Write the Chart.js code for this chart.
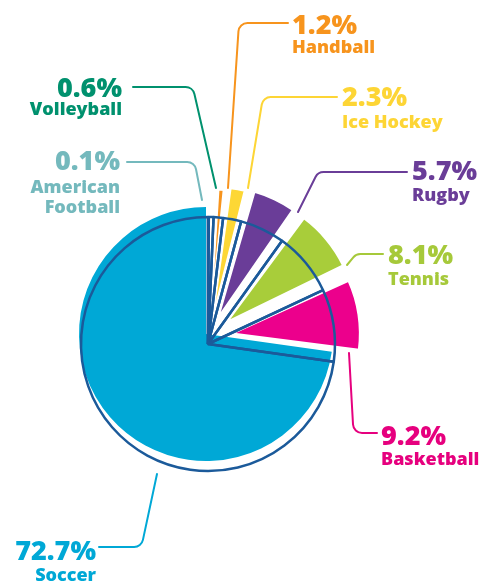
<!DOCTYPE html>
<html>
<head>
<meta charset="utf-8">
<script src="https://cdn.jsdelivr.net/npm/chart.js@4.4.1/dist/chart.umd.min.js"></script>
<style>
  html, body { margin: 0; padding: 0; background: #fff; }
  #wrap { position: relative; width: 481px; height: 583px; overflow: hidden; }
  #wrap canvas { position: absolute; left: 0; top: 0; }
  .lbl { position: absolute; white-space: nowrap; font-family: "Open Sans", sans-serif; font-weight: 800; }
</style>
</head>
<body>
<div id="wrap">
  <canvas id="soccerPie" width="481" height="583"></canvas>
  <canvas id="slicesPie" width="481" height="583"></canvas>
  <canvas id="outlinePie" width="481" height="583"></canvas>
</div>
<script>
// Data, clockwise from 12 o'clock
const categories = ['American Football', 'Volleyball', 'Handball', 'Ice Hockey', 'Rugby', 'Tennis', 'Basketball', 'Soccer'];
const shares = [0.1, 0.6, 1.2, 2.3, 5.7, 8.1, 9.2, 72.7];
const colors = ['#77bdc2', '#00916e', '#f7941d', '#fdd735', '#6a3d98', '#a8cd3a', '#ec008c', '#00a8d6'];
const textColors = ['#74b9bd', '#00916e', '#f7941d', '#fdd535', '#6a3d98', '#a6c93a', '#e6007e', '#00a8d6'];

const W = 481, H = 583;
const outlineColor = '#1b5a9a';

// Label placement: anchor x, baseline of percent, baseline of first name line
const labelLayout = [
    { align: 'right', x: 120, pct: 170, name: 193, wrap: true },
    { align: 'right', x: 122, pct: 97, name: 115 },
    { align: 'left', x: 292, pct: 34, name: 53 },
    { align: 'left', x: 342, pct: 106, name: 128 },
    { align: 'left', x: 412, pct: 180, name: 201 },
    { align: 'left', x: 388, pct: 264, name: 285 },
    { align: 'left', x: 381, pct: 445, name: 465 },
    { align: 'right', x: 96, pct: 560, name: 581 }
];

// Leader lines: start, corner, end
const leaders = [
    [[127, 162], [194.6, 162], [202, 200]],
    [[133, 87], [192.8, 87], [216, 188]],
    [[288, 23], [239, 23], [228, 188]],
    [[337, 97], [263, 97], [248, 188]],
    [[407, 172], [318, 172], [298, 212]],
    [[383, 254], [356, 254], [347, 265]],
    [[349, 353], [353.5, 433], [377, 433]],
    [[99, 547], [141.4, 547], [157, 474]]
];

const leaderPlugin = {
    id: 'leaders',
    afterDraw(chart) {
        const ctx = chart.ctx;
        ctx.save();
        ctx.lineWidth = 2;
        ctx.lineCap = 'round';
        leaders.forEach((pts, i) => {
            ctx.strokeStyle = textColors[i];
            ctx.beginPath();
            ctx.moveTo(pts[0][0], pts[0][1]);
            ctx.arcTo(pts[1][0], pts[1][1], pts[2][0], pts[2][1], 9);
            ctx.lineTo(pts[2][0], pts[2][1]);
            ctx.stroke();
        });
        ctx.restore();
    }
};

function makePie(id, cx, cy, radius, dataset, extraPlugins) {
    const half = 170;
    return new Chart(document.getElementById(id), {
        type: 'pie',
        data: { labels: categories, datasets: [dataset] },
        options: {
            responsive: false,
            animation: false,
            devicePixelRatio: 1,
            radius: radius,
            events: [],
            layout: {
                padding: { left: cx - half, right: W - cx - half, top: cy - half, bottom: H - cy - half }
            },
            plugins: { legend: { display: false }, tooltip: { enabled: false } }
        },
        plugins: extraPlugins || []
    });
}

const last = shares.length - 1;

// Big soccer slice
makePie('soccerPie', 206, 334, 127, {
    data: shares,
    backgroundColor: colors.map((c, i) => i === last ? c : 'rgba(0,0,0,0)'),
    borderWidth: 0
});

// Smaller slices, pulled out
const pullOut = [56, 60, 64, 72, 86, 94, 94, 0];
makePie('slicesPie', 209, 337, 117, {
    data: shares,
    backgroundColor: colors.map((c, i) => i === last ? 'rgba(0,0,0,0)' : c),
    borderColor: '#ffffff',
    borderWidth: shares.map((v, i) => i === last ? 0 : 2),
    offset: pullOut
});

// Dark outline of the full pie
makePie('outlinePie', 208, 344, 127, {
    data: shares,
    backgroundColor: 'rgba(0,0,0,0)',
    borderColor: outlineColor,
    borderWidth: 2.5
}, [leaderPlugin]);

// Labels
const wrap = document.getElementById('wrap');
function addText(text, size, baseline, lay, color) {
    const d = document.createElement('div');
    d.className = 'lbl';
    d.textContent = text;
    d.style.fontSize = size + 'px';
    d.style.lineHeight = size + 'px';
    d.style.color = color;
    d.style.top = (baseline - 0.888 * size) + 'px';
    if (lay.align === 'right') d.style.right = (W - lay.x) + 'px';
    else d.style.left = lay.x + 'px';
    wrap.appendChild(d);
}
categories.forEach((name, i) => {
    const lay = labelLayout[i];
    addText(shares[i].toFixed(1) + '%', 27, lay.pct, lay, textColors[i]);
    const lines = lay.wrap ? name.split(' ') : [name];
    lines.forEach((ln, k) => addText(ln, 18, lay.name + k * 20, lay, textColors[i]));
});
</script>
</body>
</html>
